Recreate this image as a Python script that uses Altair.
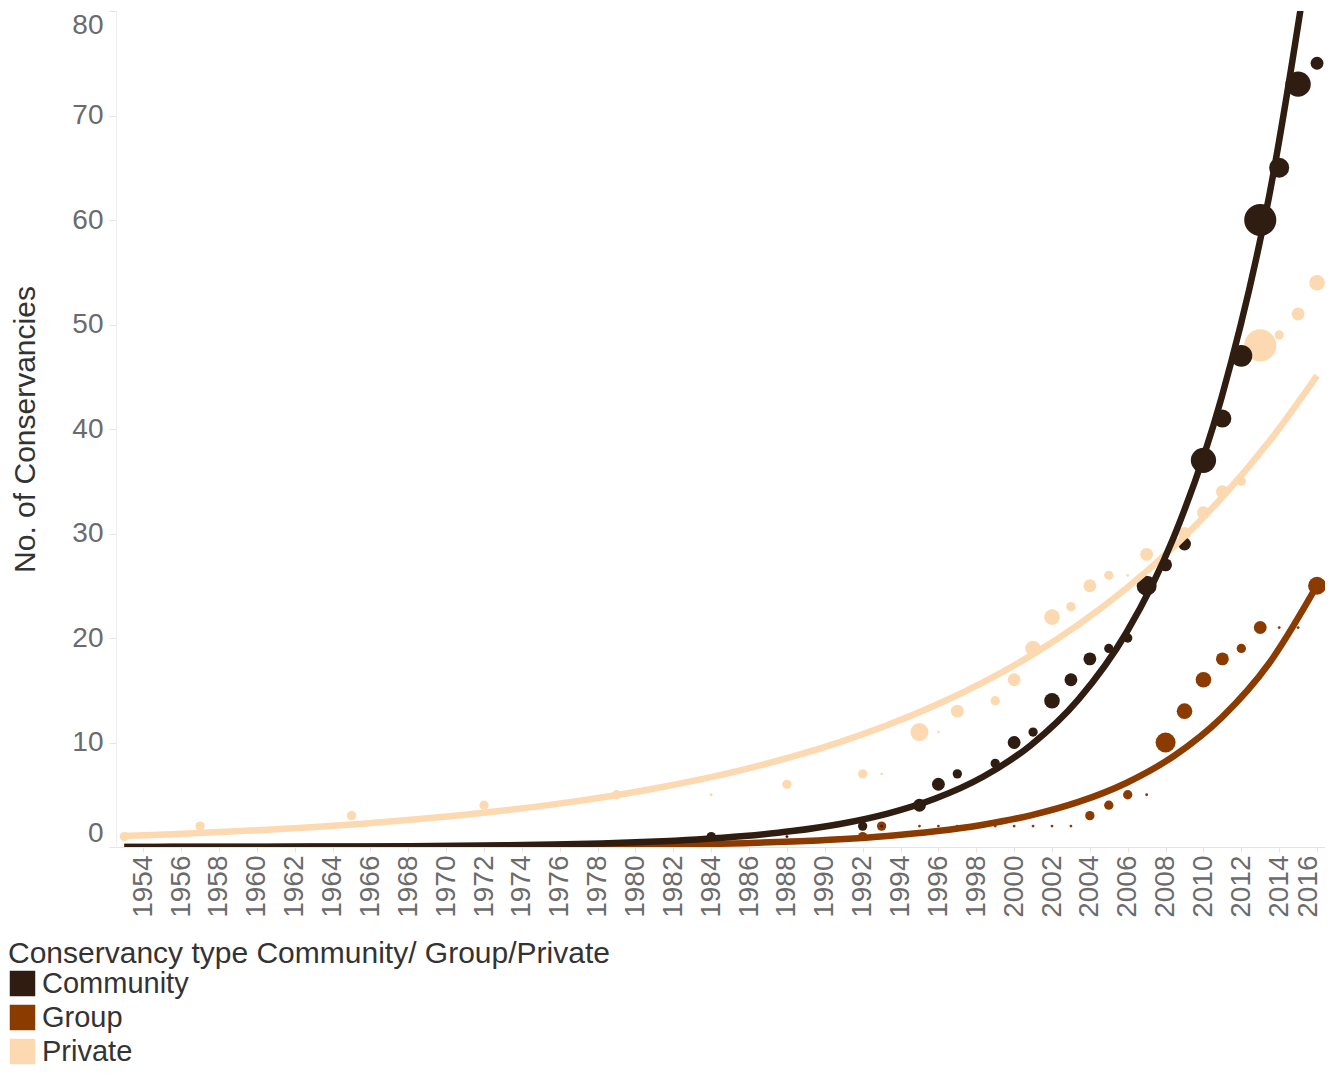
import altair as alt
import pandas as pd

# ---- data (cumulative count, new conservancies that year) ----
community_years = [1984, 1988, 1992, 1993, 1995, 1996, 1997, 1999, 2000, 2001, 2002, 2003, 2004,
                   2005, 2006, 2007, 2008, 2009, 2010, 2011, 2012, 2013, 2014, 2015, 2016]
community_total = [1, 1, 2, 2, 4, 6, 7, 8, 10, 11, 14, 16, 18, 19, 20, 25, 27, 29, 37, 41, 47, 60, 65, 73, 75]
community_new = [1, 0, 1, 0, 2, 2, 1, 1, 2, 1, 3, 2, 2, 1, 1, 5, 2, 2, 8, 4, 6, 13, 5, 8, 2]

group_years = [1992, 1993, 1995, 1996, 1997, 1999, 2000, 2001, 2002, 2003, 2004, 2005, 2006,
               2007, 2008, 2009, 2010, 2011, 2012, 2013, 2014, 2015, 2016]
group_total = [1, 2, 2, 2, 2, 2, 2, 2, 2, 2, 3, 4, 5, 5, 10, 13, 16, 18, 19, 21, 21, 21, 25]
group_new = [1, 1, 0, 0, 0, 0, 0, 0, 0, 0, 1, 1, 1, 0, 5, 3, 3, 2, 1, 2, 0, 0, 4]

private_years = [1953, 1957, 1965, 1972, 1979, 1984, 1988, 1992, 1993, 1995, 1996, 1997, 1999, 2000,
                 2001, 2002, 2003, 2004, 2005, 2006, 2007, 2009, 2010, 2011, 2012, 2013, 2014, 2015, 2016]
private_total = [1, 2, 3, 4, 5, 5, 6, 7, 7, 11, 11, 13, 14, 16, 19, 22, 23, 25, 26, 26, 28, 30, 32, 34,
                 35, 48, 49, 51, 54]
private_new = [1, 1, 1, 1, 1, 0, 1, 1, 0, 4, 0, 2, 1, 2, 3, 3, 1, 2, 1, 0, 2, 2, 2, 2, 1, 13, 1, 2, 3]

types = ["Community", "Group", "Private"]
colors = ["#2e1d10", "#8b3a00", "#fdd9b1"]
year_ticks = list(range(1954, 2017, 2))
value_ticks = [0, 10, 20, 30, 40, 50, 60, 70, 80]

rows = []
for order, (t, yrs, tot, new) in enumerate([
    ("Private", private_years, private_total, private_new),
    ("Group", group_years, group_total, group_new),
    ("Community", community_years, community_total, community_new),
]):
    for yr, v, n in zip(yrs, tot, new):
        rows.append({"type": t, "year": yr, "value": v, "new": n, "ord": order})
df = pd.DataFrame(rows)

FONT = "Liberation Sans"

x_enc = alt.X(
    "year:Q",
    scale=alt.Scale(domain=[1952.56, 2016.42], nice=False, zero=False),
    axis=alt.Axis(values=year_ticks, format="d", labelAngle=-90, grid=False, title=None,
                  labelFontSize=28, labelColor="#6b6b6b", labelFont=FONT, labelPadding=3,
                  tickSize=5, tickColor="#e4e4e4", domainColor="#e4e4e4", labelFlush=False,
                  labelOverlap=False,
                  labelOffset={"condition": {"test": f"datum.value == {year_ticks[-1]}", "value": -9},
                               "value": 0}),
)
y_enc = alt.Y(
    "value:Q",
    scale=alt.Scale(domain=[0, 80], nice=False),
    axis=alt.Axis(values=value_ticks, grid=False, title="No. of Conservancies",
                  labelFontSize=28, labelColor="#6b6b6b", labelFont=FONT, labelPadding=6,
                  tickSize=7, tickColor="#e4e4e4", domainColor="#eeeeee", labelFlush=True,
                  titleFontSize=30, titleColor="#333333", titleFont=FONT,
                  titleFontWeight="normal", titlePadding=31),
)
color_scale = alt.Scale(domain=types, range=colors)

points = alt.Chart(df).mark_circle(opacity=1).encode(
    x=x_enc,
    y=y_enc,
    color=alt.Color(
        "type:N", scale=color_scale,
        legend=alt.Legend(
            title="Conservancy type Community/ Group/Private", orient="none",
            legendX=-108, legendY=928, direction="vertical", symbolType="square",
            symbolSize=650, symbolStrokeWidth=0, symbolOpacity=1,
            titleFontSize=30, titleFont=FONT, titleColor="#333333", titleFontWeight="normal",
            titleLimit=2000, titlePadding=0, labelFontSize=29, labelFont=FONT,
            labelColor="#333333", labelLimit=2000, labelOffset=5, rowPadding=4, padding=0,
        ),
    ),
    size=alt.Size("new:Q", scale=alt.Scale(domain=[0, 13], range=[8, 1030]), legend=None),
    order=alt.Order("ord:Q"),
)

# exponential trend lines: least-squares fit of ln(value) on year, drawn back in linear space
line_layers = []
for t in ["Private", "Group", "Community"]:
    line_layers.append(
        alt.Chart(df)
        .transform_filter(alt.datum.type == t)
        .transform_calculate(lv="log(datum.value)")
        .transform_regression("year", "lv", method="poly", order=1, extent=[1953, 2016])
        .transform_calculate(value="exp(datum.lv)", type=f"'{t}'")
        .mark_line(strokeWidth=6.5, clip=True, interpolate="monotone")
        .encode(x=x_enc, y=y_enc, color=alt.Color("type:N", scale=color_scale, legend=None))
    )

chart = alt.layer(points, *line_layers).properties(
    width=1209,
    height=836,
    autosize=alt.AutoSizeParams(type="none"),
    padding={"left": 108, "top": 3, "right": 0, "bottom": 221},
).configure(font=FONT, view=alt.ViewConfig(stroke=None))

chart.save("out.html", embed_options={"renderer": "svg", "actions": False})
